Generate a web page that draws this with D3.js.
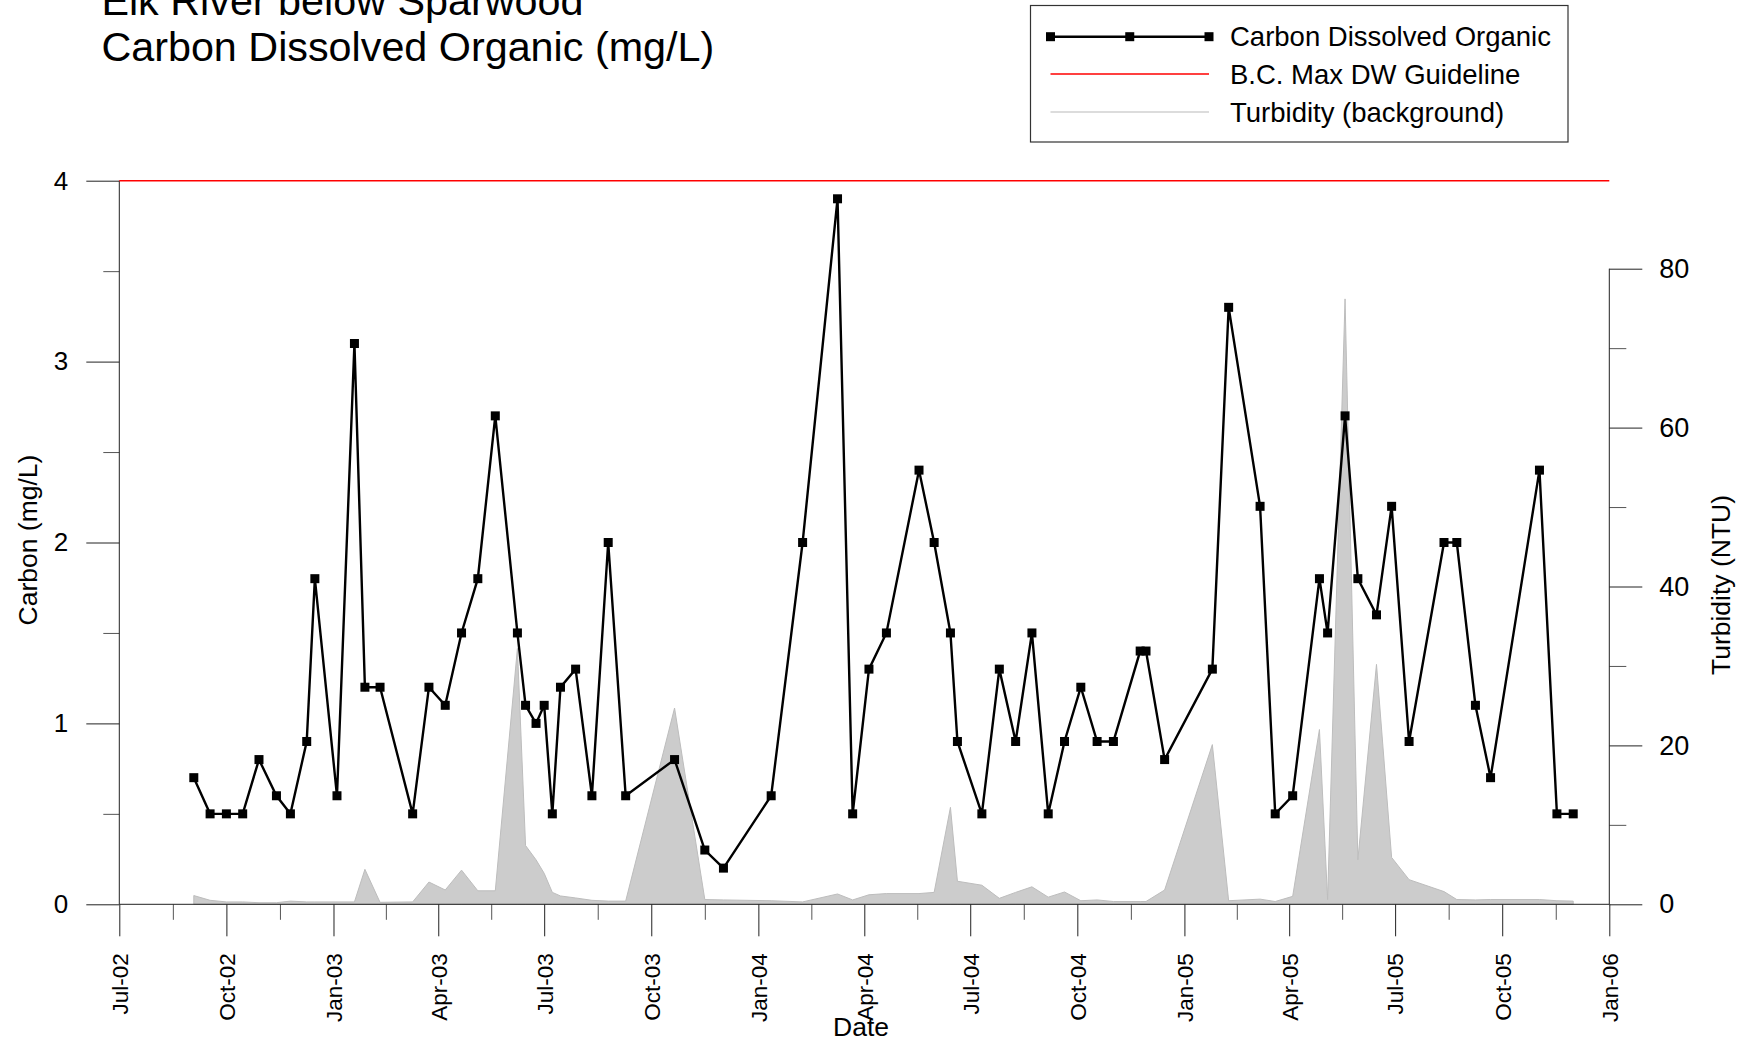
<!DOCTYPE html>
<html>
<head>
<meta charset="utf-8">
<script src="https://cdn.jsdelivr.net/npm/d3@7"></script>
<style>
  html, body { margin: 0; padding: 0; background: #fff; }
  svg { display: block; font-family: "Liberation Sans", Arial, Helvetica, sans-serif; }
</style>
</head>
<body>
<svg id="chart" width="1747" height="1043"></svg>
<script>
// ---- Data ----
const dates = [
  "2002-09-03","2002-09-17","2002-10-01","2002-10-15","2002-10-29","2002-11-13","2002-11-25","2002-12-09","2002-12-16",
  "2003-01-04","2003-01-19","2003-01-28","2003-02-10","2003-03-10","2003-03-24","2003-04-07","2003-04-21","2003-05-05",
  "2003-05-20","2003-06-08","2003-06-15","2003-06-24","2003-07-01","2003-07-08","2003-07-15","2003-07-28","2003-08-11",
  "2003-08-25","2003-09-09","2003-10-21","2003-11-16","2003-12-02",
  "2004-01-12","2004-02-08","2004-03-09","2004-03-22","2004-04-05","2004-04-20","2004-05-18","2004-05-31","2004-06-14",
  "2004-06-20","2004-07-11","2004-07-26","2004-08-09","2004-08-23","2004-09-06","2004-09-20","2004-10-04","2004-10-18",
  "2004-11-01","2004-11-24","2004-11-29","2004-12-15",
  "2005-01-25","2005-02-08","2005-03-07","2005-03-20","2005-04-04","2005-04-27","2005-05-04","2005-05-19","2005-05-30",
  "2005-06-15","2005-06-28","2005-07-13","2005-08-12","2005-08-23","2005-09-08","2005-09-21","2005-11-02","2005-11-17",
  "2005-12-01"
];
const carbon = [
  0.7,0.5,0.5,0.5,0.8,0.6,0.5,0.9,1.8,
  0.6,3.1,1.2,1.2,0.5,1.2,1.1,1.5,1.8,
  2.7,1.5,1.1,1.0,1.1,0.5,1.2,1.3,0.6,
  2.0,0.6,0.8,0.3,0.2,
  0.6,2.0,3.9,0.5,1.3,1.5,2.4,2.0,1.5,
  0.9,0.5,1.3,0.9,1.5,0.5,0.9,1.2,0.9,
  0.9,1.4,1.4,0.8,
  1.3,3.3,2.2,0.5,0.6,1.8,1.5,2.7,1.8,
  1.6,2.2,0.9,2.0,2.0,1.1,0.7,2.4,0.5,
  0.5
];
const turbidity = [
  1.1,0.5,0.3,0.3,0.2,0.2,0.4,0.3,0.3,
  0.3,0.3,4.4,0.25,0.3,2.8,1.8,4.3,1.7,
  1.7,32.2,7.4,5.6,3.9,1.5,1.05,0.8,0.5,
  0.4,0.4,24.7,0.6,0.55,
  0.45,0.3,1.3,0.55,1.2,1.35,1.35,1.5,12.2,
  2.9,2.4,0.75,1.5,2.2,0.9,1.55,0.45,0.55,
  0.35,0.35,0.35,1.8,
  20.1,0.45,0.65,0.35,1.0,22.0,0.6,76.2,5.6,
  30.2,5.9,3.1,1.6,0.6,0.55,0.6,0.6,0.45,
  0.4
];
const guideline = 4;
const carbonTicks = [0, 1, 2, 3, 4];
const carbonMinorTicks = [0.5, 1.5, 2.5, 3.5];
const turbTicks = [0, 20, 40, 60, 80];
const turbMinorTicks = [10, 30, 50, 70];
const xDomain = ["2002-07-01", "2006-01-01"];
const titleLines = ["Elk River below Sparwood", "Carbon Dissolved Organic (mg/L)"];
const legendLabels = ["Carbon Dissolved Organic", "B.C. Max DW Guideline", "Turbidity (background)"];
const xTitle = "Date", yTitle = "Carbon (mg/L)", y2Title = "Turbidity (NTU)";

// ---- Layout ----
const parse = d3.timeParse("%Y-%m-%d");
const data = dates.map((d, i) => ({ date: parse(d), c: carbon[i], t: turbidity[i] }));

const X0 = 119.3, X1 = 1609.3, Y0 = 904.3, YC4 = 180.7, YT80 = 268.7;
const x = d3.scaleTime().domain(xDomain.map(parse)).range([X0, X1]);
const y = d3.scaleLinear().domain([0, 4]).range([Y0, YC4]);
const y2 = d3.scaleLinear().domain([0, 80]).range([Y0, YT80]);

const svg = d3.select("#chart");

// Turbidity area (background)
svg.append("path")
  .datum(data)
  .attr("d", d3.area().x(d => x(d.date)).y0(Y0).y1(d => y2(d.t)))
  .attr("fill", "#cccccc")
  .attr("stroke", "#bdbdbd")
  .attr("stroke-width", 1);

// Axes
const majorQ = d3.timeMonth.every(3).range(parse("2002-07-01"), parse("2006-01-02"));
const minorQ = [];
for (let i = 0; i < majorQ.length - 1; i++) {
  minorQ.push(new Date((majorQ[i].getTime() + majorQ[i + 1].getTime()) / 2));
}
const fmt = d3.timeFormat("%b-%y");

function styleAxis(g, color) {
  g.select(".domain").remove();
  g.selectAll(".tick line").attr("stroke", color).attr("stroke-width", 1);
}

// x minor
svg.append("g").attr("transform", `translate(0,${Y0})`)
  .call(d3.axisBottom(x).tickValues(minorQ).tickSize(15.5).tickFormat(""))
  .call(g => styleAxis(g, "#555"));
// x major
const gx = svg.append("g").attr("transform", `translate(0,${Y0})`)
  .call(d3.axisBottom(x).tickValues(majorQ).tickSize(32).tickFormat(fmt))
  .call(g => styleAxis(g, "#222"));
gx.selectAll(".tick text")
  .attr("transform", "rotate(-90)")
  .attr("text-anchor", "end")
  .attr("x", -49)
  .attr("y", 0)
  .attr("dy", "0.35em")
  .attr("fill", "#000")
  .style("font-size", "22.5px")
  .style("font-family", "Liberation Sans, Arial, sans-serif");

// y left minor
svg.append("g").attr("transform", `translate(${X0},0)`)
  .call(d3.axisLeft(y).tickValues(carbonMinorTicks).tickSize(16).tickFormat(""))
  .call(g => styleAxis(g, "#555"));
// y left major
svg.append("g").attr("transform", `translate(${X0},0)`)
  .call(d3.axisLeft(y).tickValues(carbonTicks).tickSize(33).tickPadding(18).tickFormat(d3.format("d")))
  .call(g => styleAxis(g, "#222"))
  .call(g => g.selectAll(".tick text").attr("fill", "#000")
    .style("font-size", "26px").style("font-family", "Liberation Sans, Arial, sans-serif"));

// y right minor
svg.append("g").attr("transform", `translate(${X1},0)`)
  .call(d3.axisRight(y2).tickValues(turbMinorTicks).tickSize(17).tickFormat(""))
  .call(g => styleAxis(g, "#555"));
// y right major
svg.append("g").attr("transform", `translate(${X1},0)`)
  .call(d3.axisRight(y2).tickValues(turbTicks).tickSize(33).tickPadding(17).tickFormat(d3.format("d")))
  .call(g => styleAxis(g, "#222"))
  .call(g => g.selectAll(".tick text").attr("fill", "#000")
    .style("font-size", "27px").style("font-family", "Liberation Sans, Arial, sans-serif"));

// axis lines
svg.append("line").attr("x1", X0).attr("x2", X0).attr("y1", y(4)).attr("y2", Y0).attr("stroke", "#222");
svg.append("line").attr("x1", X1).attr("x2", X1).attr("y1", y2(80)).attr("y2", Y0).attr("stroke", "#222");
svg.append("line").attr("x1", X0).attr("x2", X1).attr("y1", Y0).attr("y2", Y0).attr("stroke", "#222");

// Carbon line + markers
svg.append("path")
  .datum(data)
  .attr("d", d3.line().x(d => x(d.date)).y(d => y(d.c)))
  .attr("fill", "none")
  .attr("stroke", "#000")
  .attr("stroke-width", 2.4);
const ms = 9;
svg.append("g").selectAll("rect").data(data).join("rect")
  .attr("x", d => x(d.date) - ms / 2)
  .attr("y", d => y(d.c) - ms / 2)
  .attr("width", ms).attr("height", ms)
  .attr("fill", "#000");

// Guideline
svg.append("line")
  .attr("x1", X0).attr("x2", X1)
  .attr("y1", y(guideline)).attr("y2", y(guideline))
  .attr("stroke", "#ff0000").attr("stroke-width", 1.5);

// Axis titles
svg.append("text").text(yTitle)
  .attr("transform", `translate(36.5,540) rotate(-90)`)
  .attr("text-anchor", "middle").style("font-size", "26.5px");
svg.append("text").text(y2Title)
  .attr("transform", `translate(1730,585) rotate(-90)`)
  .attr("text-anchor", "middle").style("font-size", "26.5px");
svg.append("text").text(xTitle)
  .attr("x", 861).attr("y", 1036)
  .attr("text-anchor", "middle").style("font-size", "26.5px");

// Title (first line is partly cut off at the top edge, as in the reference)
svg.append("text").text(titleLines[0]).attr("x", 101.4).attr("y", 15).style("font-size", "41.3px");
svg.append("text").text(titleLines[1]).attr("x", 101.4).attr("y", 60.7).style("font-size", "41.3px");

// Legend
const lg = svg.append("g");
lg.append("rect").attr("x", 1030.5).attr("y", 5.5).attr("width", 537.5).attr("height", 136.5)
  .attr("fill", "#fff").attr("stroke", "#333").attr("stroke-width", 1.2);
const lx0 = 1050.5, lx1 = 1209, ltx = 1230;
const rows = [36.7, 74, 112];
lg.append("line").attr("x1", lx0).attr("x2", lx1).attr("y1", rows[0]).attr("y2", rows[0])
  .attr("stroke", "#000").attr("stroke-width", 2.4);
[lx0, (lx0 + lx1) / 2, lx1].forEach(px => {
  lg.append("rect").attr("x", px - ms / 2).attr("y", rows[0] - ms / 2).attr("width", ms).attr("height", ms).attr("fill", "#000");
});
lg.append("line").attr("x1", lx0).attr("x2", lx1).attr("y1", rows[1]).attr("y2", rows[1])
  .attr("stroke", "#ff0000").attr("stroke-width", 1.5);
lg.append("line").attr("x1", lx0).attr("x2", lx1).attr("y1", rows[2]).attr("y2", rows[2])
  .attr("stroke", "#d0d0d0").attr("stroke-width", 1.5);
legendLabels.forEach((t, i) => {
  lg.append("text").text(t).attr("x", ltx).attr("y", rows[i]).attr("dy", "0.35em").style("font-size", "27.5px");
});
</script>
</body>
</html>
